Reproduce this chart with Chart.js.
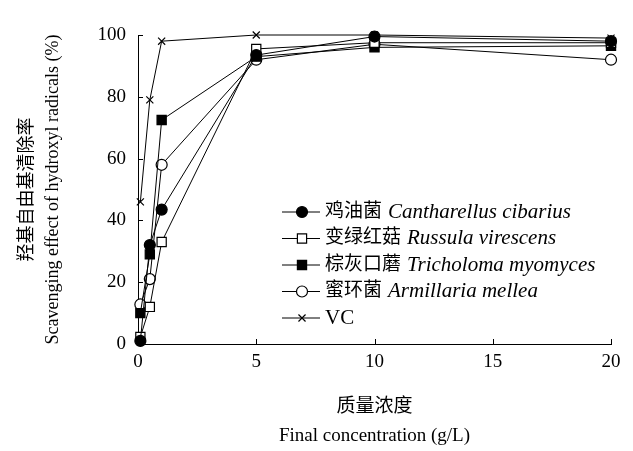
<!DOCTYPE html>
<html>
<head>
<meta charset="utf-8">
<script src="https://cdn.jsdelivr.net/npm/chart.js@4"></script>
<style>
  html, body { margin: 0; padding: 0; background: #fff; }
  #wrap { width: 633px; height: 451px; }
</style>
</head>
<body>
<div id="wrap"><canvas id="chart" width="633" height="451"></canvas></div>
<script>
// concentrations (g/L)
const concentrations = [0.1, 0.5, 1, 5, 10, 20];

// scavenging effect (%)
const cantharellus = [1, 32, 43.5, 93.5, 99.5, 98];
const russula = [2.3, 12, 33, 95.5, 97.5, 97.5];
const tricholoma = [10, 29, 72.5, 93, 96, 96.5];
const armillaria = [12.8, 21, 58, 92, 97, 92];
const vc = [46, 79, 98, 100, 100, 99];

const namesCn = ['鸡油菌', '变绿红菇', '棕灰口蘑', '蜜环菌', 'VC'];
const namesLatin = ['Cantharellus cibarius', 'Russula virescens', 'Tricholoma myomyces', 'Armillaria mellea', ''];

const xTicks = [0, 5, 10, 15, 20];
const yTicks = [0, 20, 40, 60, 80, 100];

const serif = "'Liberation Serif', 'Noto Sans CJK SC', serif";

const styles = [
    { pointStyle: 'circle', fill: '#000', radius: 5.5 },
    { pointStyle: 'rect', fill: '#fff', radius: 6.5 },
    { pointStyle: 'rect', fill: '#000', radius: 6.5 },
    { pointStyle: 'circle', fill: '#fff', radius: 5.5 },
    { pointStyle: 'crossRot', fill: '#fff', radius: 5 }
];

const seriesValues = [cantharellus, russula, tricholoma, armillaria, vc];

const toPoints = (vals) => vals.map((v, i) => ({ x: concentrations[i], y: v }));

const datasets = seriesValues.map((vals, i) => ({
    label: namesCn[i],
    data: toPoints(vals),
    borderColor: '#000',
    borderWidth: 1,
    pointStyle: styles[i].pointStyle,
    pointRadius: styles[i].radius,
    pointBackgroundColor: styles[i].fill,
    pointBorderColor: '#000',
    pointBorderWidth: 1.2,
    tension: 0,
    fill: false,
    clip: false
}));

// inner tick marks on both axes
const innerTicks = {
    id: 'innerTicks',
    afterDraw(chart) {
        const { ctx, chartArea: a, scales: { x, y } } = chart;
        ctx.save();
        ctx.strokeStyle = '#000';
        ctx.lineWidth = 1;
        ctx.beginPath();
        xTicks.forEach(t => {
            const px = Math.round(x.getPixelForValue(t)) + 0.5;
            ctx.moveTo(px, a.bottom);
            ctx.lineTo(px, a.bottom - 5);
        });
        yTicks.forEach(t => {
            const py = Math.round(y.getPixelForValue(t)) + 0.5;
            ctx.moveTo(a.left, py);
            ctx.lineTo(a.left + 5, py);
        });
        ctx.stroke();
        ctx.restore();
    }
};

// legend with chinese + italic latin names
const mixedLegend = {
    id: 'mixedLegend',
    afterDraw(chart) {
        const { ctx, chartArea: a } = chart;
        const lx = a.left + 144;
        const top = 212;
        const rowH = 26.5;
        ctx.save();
        namesCn.forEach((cn, i) => {
            const cy = top + i * rowH;
            ctx.strokeStyle = '#000';
            ctx.lineWidth = 1;
            ctx.beginPath();
            ctx.moveTo(lx, cy);
            ctx.lineTo(lx + 38, cy);
            ctx.stroke();
            ctx.fillStyle = styles[i].fill;
            ctx.lineWidth = 1.2;
            Chart.helpers.drawPoint(ctx, { pointStyle: styles[i].pointStyle, radius: styles[i].radius, rotation: 0, borderWidth: 1.2 }, lx + 20, cy);
            ctx.fillStyle = '#000';
            ctx.textBaseline = 'middle';
            ctx.textAlign = 'left';
            let tx = lx + 43;
            ctx.font = (i === 4 ? "21px " : "19px ") + serif;
            ctx.fillText(cn, tx, cy);
            tx += ctx.measureText(cn).width + 6;
            if (namesLatin[i]) {
                ctx.font = "italic 21px 'Liberation Serif', serif";
                ctx.fillText(namesLatin[i], tx, cy);
            }
        });
        ctx.restore();
    }
};

new Chart(document.getElementById('chart'), {
    type: 'line',
    data: { datasets: datasets },
    options: {
        responsive: false,
        animation: false,
        layout: { padding: { top: 35, right: 22, left: 0, bottom: 0 } },
        plugins: {
            legend: { display: false },
            tooltip: { enabled: false }
        },
        scales: {
            x: {
                type: 'linear',
                min: 0,
                max: 20,
                afterBuildTicks: (s) => { s.ticks = xTicks.map(v => ({ value: v })); },
                afterFit: (s) => { s.height = 107; },
                grid: { drawOnChartArea: false, drawTicks: false },
                border: { display: true, color: '#000', width: 1 },
                ticks: { color: '#000', font: { family: serif, size: 19 }, padding: 7, maxRotation: 0 },
                title: {
                    display: true,
                    text: ['质量浓度', 'Final concentration (g/L)'],
                    color: '#000',
                    font: { family: serif, size: 19, lineHeight: 1.55 },
                    padding: { top: 0, bottom: 0 }
                }
            },
            y: {
                min: 0,
                max: 100,
                afterBuildTicks: (s) => { s.ticks = yTicks.map(v => ({ value: v })); },
                afterFit: (s) => { s.width = 138; },
                grid: { drawOnChartArea: false, drawTicks: false },
                border: { display: true, color: '#000', width: 1 },
                ticks: { color: '#000', font: { family: serif, size: 19 }, padding: 12 },
                title: {
                    display: true,
                    text: ['羟基自由基清除率', 'Scavenging effect of hydroxyl radicals (%)'],
                    color: '#000',
                    font: { family: serif, size: 18, lineHeight: 1.4 },
                    padding: { top: 15, bottom: 0 }
                }
            }
        }
    },
    plugins: [innerTicks, mixedLegend]
});
</script>
</body>
</html>
